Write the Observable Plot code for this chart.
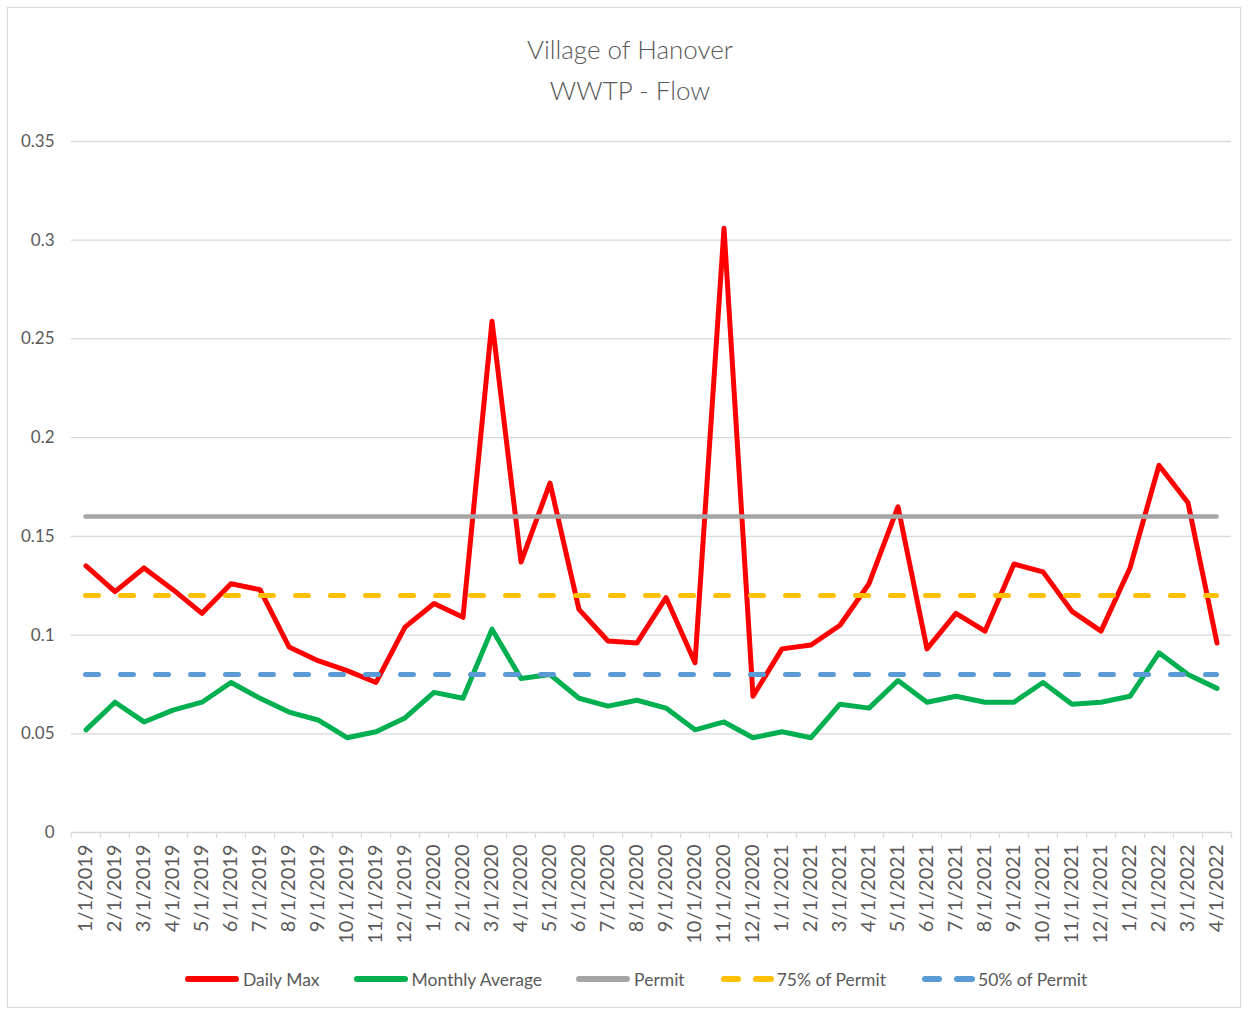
<!DOCTYPE html>
<html>
<head>
<meta charset="utf-8">
<script src="https://cdn.jsdelivr.net/npm/d3@7"></script>
<script src="https://cdn.jsdelivr.net/npm/@observablehq/plot@0.6"></script>
<style>
  body { margin: 0; background: #fff; font-family: Lato, "Open Sans", sans-serif; }
  #frame { position: absolute; left: 7px; top: 7px; width: 1234px; height: 1001px; border: 1.5px solid #d9d9d9; box-sizing: border-box; }
  #title { position: absolute; left: 0; top: 29px; width: 1260px; text-align: center; color: #595959; font-size: 26px; line-height: 41px; font-weight: 300; }
  #chart { position: absolute; left: 0; top: 120px; }
  #legend { position: absolute; left: 184px; top: 966px; height: 26px; display: flex; align-items: center; color: #595959; font-size: 17.5px; }
  .item { display: flex; align-items: center; margin-right: 33px; }
  .item svg { margin-right: 3px; }
</style>
</head>
<body>
<div id="frame"></div>
<div id="title">Village of Hanover<br>WWTP - Flow</div>
<div id="chart"></div>
<div id="legend"></div>
<script>
// ---- data ----
const months = [
  "1/1/2019","2/1/2019","3/1/2019","4/1/2019","5/1/2019","6/1/2019","7/1/2019","8/1/2019","9/1/2019","10/1/2019","11/1/2019","12/1/2019",
  "1/1/2020","2/1/2020","3/1/2020","4/1/2020","5/1/2020","6/1/2020","7/1/2020","8/1/2020","9/1/2020","10/1/2020","11/1/2020","12/1/2020",
  "1/1/2021","2/1/2021","3/1/2021","4/1/2021","5/1/2021","6/1/2021","7/1/2021","8/1/2021","9/1/2021","10/1/2021","11/1/2021","12/1/2021",
  "1/1/2022","2/1/2022","3/1/2022","4/1/2022"
];
const dailyMax = [
  0.135, 0.122, 0.134, 0.123, 0.111, 0.126, 0.123, 0.094, 0.087, 0.082, 0.076, 0.104,
  0.116, 0.109, 0.259, 0.137, 0.177, 0.113, 0.097, 0.096, 0.119, 0.086, 0.306, 0.069,
  0.093, 0.095, 0.105, 0.126, 0.165, 0.093, 0.111, 0.102, 0.136, 0.132, 0.112, 0.102,
  0.134, 0.186, 0.167, 0.096
];
const monthlyAverage = [
  0.052, 0.066, 0.056, 0.062, 0.066, 0.076, 0.068, 0.061, 0.057, 0.048, 0.051, 0.058,
  0.071, 0.068, 0.103, 0.078, 0.080, 0.068, 0.064, 0.067, 0.063, 0.052, 0.056, 0.048,
  0.051, 0.048, 0.065, 0.063, 0.077, 0.066, 0.069, 0.066, 0.066, 0.076, 0.065, 0.066,
  0.069, 0.091, 0.080, 0.073
];
const permit = 0.16;
const permit75 = 0.12;
const permit50 = 0.08;
const yTicks = [0, 0.05, 0.1, 0.15, 0.2, 0.25, 0.3, 0.35];
const yTickLabels = ["0", "0.05", "0.1", "0.15", "0.2", "0.25", "0.3", "0.35"];
const seriesNames = ["Daily Max", "Monthly Average", "Permit", "75% of Permit", "50% of Permit"];

// ---- styles ----
const colors = ["#ff0000", "#00b050", "#a5a5a5", "#ffc000", "#5b9bd5"];
const dash = "13,22";

const idx = months.map((_, i) => i);
const last = months.length - 1;
const boundaries = d3.range(months.length + 1).map(i => i - 0.5);

const chart = Plot.plot({
  width: 1249,
  height: 830,
  marginTop: 21,
  marginBottom: 118,
  marginLeft: 71,
  marginRight: 18,
  style: { fontFamily: "Lato, 'Open Sans', sans-serif", color: "#595959", background: "transparent", overflow: "visible" },
  x: { type: "linear", domain: [-0.5, months.length - 0.5], axis: null },
  y: { domain: [0, 0.35], axis: null },
  marks: [
    Plot.ruleY(yTicks, { stroke: "#d9d9d9", strokeWidth: 1.3 }),
    Plot.axisY(yTicks, { tickSize: 0, tickPadding: 17, fontSize: 17, fill: "#595959", label: null,
      tickFormat: d => yTickLabels[yTicks.indexOf(d)] }),
    Plot.axisX(boundaries, { tickSize: 6, stroke: "#d9d9d9", strokeOpacity: 1, strokeWidth: 1.3, tickFormat: () => "", label: null }),
    Plot.axisX(idx, { tickSize: 0, tickRotate: -90, tickPadding: 12, fontSize: 20, fill: "#595959", label: null,
      tickFormat: i => months[i] }),
    Plot.lineY(dailyMax, { x: (d, i) => i, y: d => d, stroke: colors[0], strokeWidth: 5,
      strokeLinejoin: "round", strokeLinecap: "round" }),
    Plot.lineY(monthlyAverage, { x: (d, i) => i, y: d => d, stroke: colors[1], strokeWidth: 5,
      strokeLinejoin: "round", strokeLinecap: "round" }),
    Plot.ruleY([permit], { x1: () => 0, x2: () => last, stroke: colors[2], strokeWidth: 4.5, strokeLinecap: "round" }),
    Plot.ruleY([permit75], { x1: () => 0, x2: () => last, stroke: colors[3], strokeWidth: 5,
      strokeLinecap: "round", strokeDasharray: dash }),
    Plot.ruleY([permit50], { x1: () => 0, x2: () => last, stroke: colors[4], strokeWidth: 5,
      strokeLinecap: "round", strokeDasharray: dash })
  ]
});
document.getElementById("chart").appendChild(chart);

// ---- legend ----
const legend = d3.select("#legend");
seriesNames.forEach((name, k) => {
  const item = legend.append("div").attr("class", "item");
  const svg = item.append("svg").attr("width", 56).attr("height", 10);
  if (k < 3) {
    svg.append("line").attr("x1", 4).attr("x2", 52).attr("y1", 5).attr("y2", 5)
      .attr("stroke", colors[k]).attr("stroke-width", 6).attr("stroke-linecap", "round");
  } else {
    svg.append("line").attr("x1", 6).attr("x2", 20).attr("y1", 5).attr("y2", 5)
      .attr("stroke", colors[k]).attr("stroke-width", 6).attr("stroke-linecap", "round");
    svg.append("line").attr("x1", 38).attr("x2", 53).attr("y1", 5).attr("y2", 5)
      .attr("stroke", colors[k]).attr("stroke-width", 6).attr("stroke-linecap", "round");
  }
  item.append("span").text(name);
});
</script>
</body>
</html>
